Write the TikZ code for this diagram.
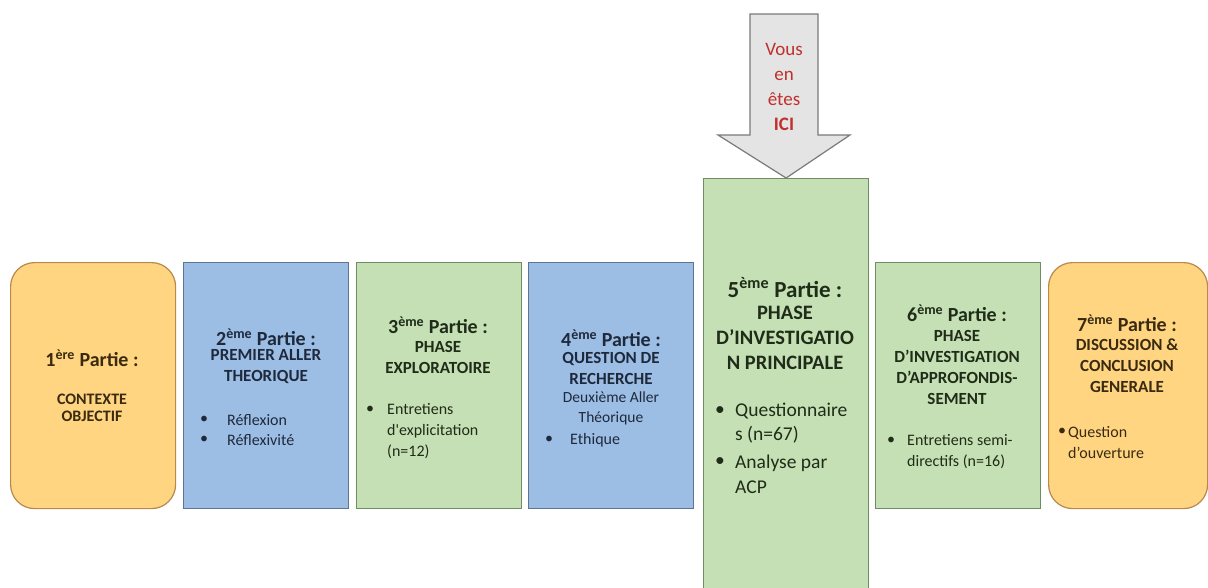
\documentclass[tikz,border=0pt]{standalone}
\usepackage{fontspec}
\setmainfont{Carlito}
\usetikzlibrary{positioning}
\definecolor{orfill}{HTML}{FFD582}
\definecolor{ordraw}{HTML}{B8894A}
\definecolor{blfill}{HTML}{9CBDE4}
\definecolor{bldraw}{HTML}{5D7593}
\definecolor{grfill}{HTML}{C6E0B5}
\definecolor{grdraw}{HTML}{6F8C62}
\definecolor{arfill}{HTML}{E4E4E4}
\definecolor{ardraw}{HTML}{7A7A7A}
\definecolor{txtor}{HTML}{3A2A10}
\definecolor{txtbl}{HTML}{1E2A3C}
\definecolor{txtgr}{HTML}{1F2C18}
\definecolor{txtred}{HTML}{C0302C}
\tikzset{
  partbox/.style={line width=1.2pt, anchor=north west, inner sep=0pt, minimum width=165pt},
  orangebox/.style={partbox, draw=ordraw, fill=orfill, rounded corners=24pt},
  bluebox/.style={partbox, draw=bldraw, fill=blfill},
  greenbox/.style={partbox, draw=grdraw, fill=grfill},
  titre/.style={font=\bfseries\fontsize{20}{24}\selectfont, align=center, inner sep=0pt},
  soustitre/.style={font=\bfseries\fontsize{17}{21}\selectfont, align=center, inner sep=0pt},
  puce/.style={font=\fontsize{16}{21}\selectfont, align=left, anchor=west, inner sep=0pt},
  point/.style={font=\fontsize{16}{21}\selectfont, inner sep=0pt},
}
\begin{document}
\begin{tikzpicture}[x=1pt,y=-1pt]
\useasboundingbox[fill=white] (0,0) rectangle (1208,587);

% les sept parties
\node[orangebox, minimum height=246pt] (p1) at (10,262) {};
\node[bluebox, minimum height=246pt] (p2) at (183,262) {};
\node[greenbox, minimum height=246pt] (p3) at (356,262) {};
\node[bluebox, minimum height=246pt] (p4) at (528,262) {};
\node[greenbox, minimum height=420pt] (p5) at (703,178) {};
\node[greenbox, minimum height=246pt] (p6) at (875,262) {};
\node[orangebox, minimum width=159pt, minimum height=246pt] (p7) at (1048,262) {};

% fleche "vous en etes ici"
\filldraw[fill=arfill, draw=ardraw, line width=1.2pt]
  (750,14) -- (818,14) -- (818,135) -- (850,135) -- (p5.north) -- (718,135) -- (750,135) -- cycle;
\node[font=\fontsize{19}{24.7}\selectfont, text=txtred, align=center, inner sep=0pt] (ici) at (784,87)
  {Vous\\en\\êtes\\\textbf{ICI}};

% 1
\node[titre, text=txtor] (t1) at (92,358) {1\textsuperscript{ère} Partie :};
\node[font=\bfseries\fontsize{16}{17}\selectfont, align=center, inner sep=0pt, text=txtor] (s1) at (92,408) {CONTEXTE\\OBJECTIF};

% 2
\node[titre, text=txtbl] (t2) at (266,337) {2\textsuperscript{ème} Partie :};
\node[soustitre, text=txtbl] (s2) at (266,367) {PREMIER ALLER\\THEORIQUE};
\node[point, text=txtbl] (d2a) at (204,420) {\textbullet};
\node[puce, text=txtbl] (b2a) at (227,420) {Réflexion};
\node[point, text=txtbl] (d2b) at (204,440) {\textbullet};
\node[puce, text=txtbl] (b2b) at (227,440) {Réflexivité};

% 3
\node[titre, text=txtgr] (t3) at (438,325) {3\textsuperscript{ème} Partie :};
\node[soustitre, text=txtgr] (s3) at (438,357) {PHASE\\EXPLORATOIRE};
\node[point, text=txtgr] (d3) at (370,410) {\textbullet};
\node[puce, text=txtgr] (b3) at (387,431) {Entretiens\\d\textquotesingle explicitation\\(n=12)};

% 4
\node[titre, text=txtbl] (t4) at (611,338) {4\textsuperscript{ème} Partie :};
\node[soustitre, text=txtbl] (s4) at (611,368) {QUESTION DE\\RECHERCHE};
\node[font=\fontsize{15.5}{20}\selectfont, align=center, inner sep=0pt, text=txtbl] (n4) at (611,408) {Deuxième Aller\\Théorique};
\node[point, text=txtbl] (d4) at (549,440) {\textbullet};
\node[puce, text=txtbl] (b4) at (570,440) {Ethique};

% 5
\node[titre, font=\bfseries\fontsize{23}{27}\selectfont, text=txtgr] (t5) at (785,288) {5\textsuperscript{ème} Partie :};
\node[soustitre, font=\bfseries\fontsize{20.5}{25}\selectfont, text=txtgr] (s5) at (785,338) {PHASE\\D’INVESTIGATIO\\N PRINCIPALE};
\node[point, font=\fontsize{19.5}{24.5}\selectfont, text=txtgr] (d5a) at (720,411) {\textbullet};
\node[puce, font=\fontsize{19.5}{24.5}\selectfont, text=txtgr] (b5a) at (735,423) {Questionnaire\\s (n=67)};
\node[point, font=\fontsize{19.5}{24.5}\selectfont, text=txtgr] (d5b) at (720,462) {\textbullet};
\node[puce, font=\fontsize{19.5}{24.5}\selectfont, text=txtgr] (b5b) at (735,474.5) {Analyse par\\ACP};

% 6
\node[titre, text=txtgr] (t6) at (957,313) {6\textsuperscript{ème} Partie :};
\node[soustitre, text=txtgr] (s6) at (957,367) {PHASE\\D’INVESTIGATION\\D’APPROFONDIS-\\SEMENT};
\node[point, text=txtgr] (d6) at (891,441) {\textbullet};
\node[puce, text=txtgr] (b6) at (907,452) {Entretiens semi-\\directifs (n=16)};

% 7
\node[titre, text=txtor] (t7) at (1127,323) {7\textsuperscript{ème} Partie :};
\node[soustitre, text=txtor] (s7) at (1127,366) {DISCUSSION \&\\CONCLUSION\\GENERALE};
\node[point, text=txtor] (d7) at (1062,432) {\textbullet};
\node[puce, text=txtor] (b7) at (1068,442.5) {Question\\d’ouverture};

\end{tikzpicture}
\end{document}
